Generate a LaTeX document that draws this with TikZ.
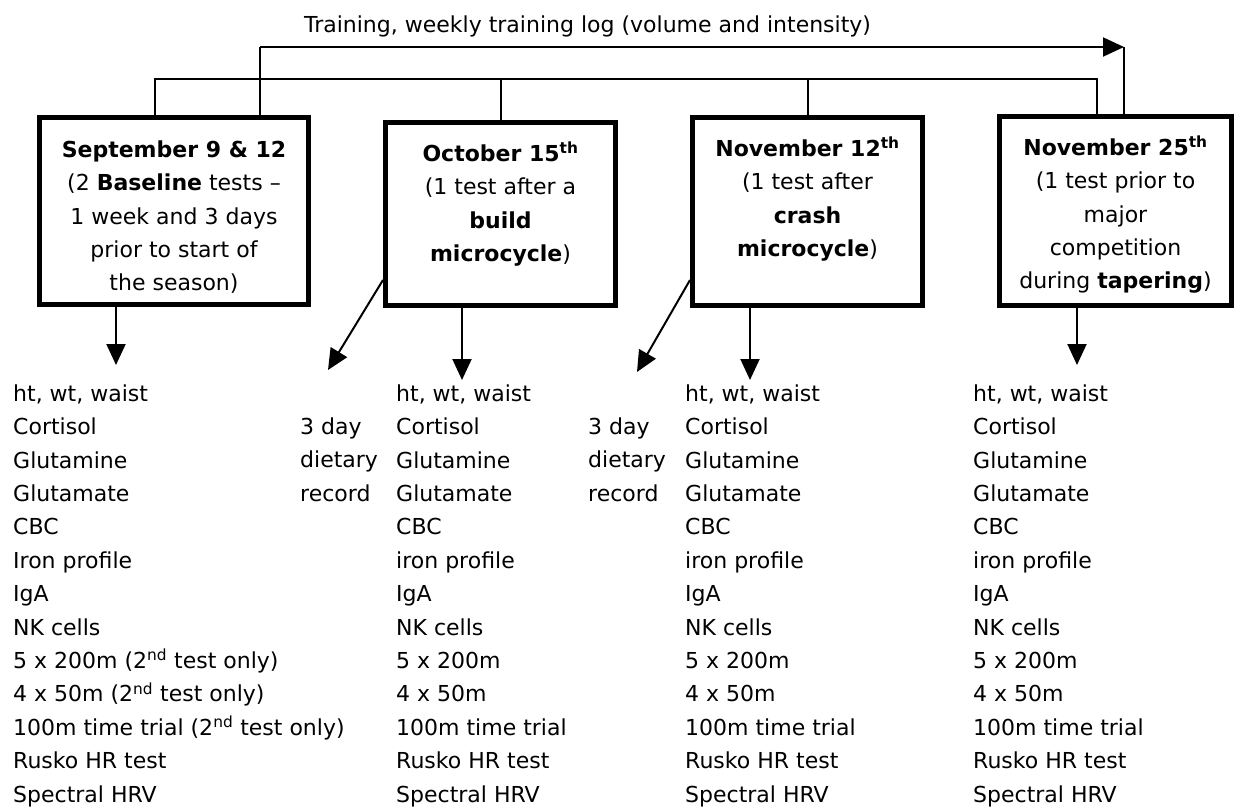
\documentclass[tikz,border=0pt]{standalone}
\usepackage{fontspec}
\setmainfont{DejaVu Sans}
\usetikzlibrary{arrows.meta}
\newcommand\myfs{\fontsize{22}{33.4}\selectfont}
\newcommand\fst{\rule{0pt}{21pt}}
\begin{document}
\begin{tikzpicture}[x=1pt,y=-1pt,
  box/.style={draw, line width=5pt, inner sep=0pt},
  boxtext/.style={font=\myfs, align=center, inner sep=0pt, anchor=north},
  lst/.style={font=\myfs, align=left, inner sep=0pt, anchor=north west},
  conn/.style={line width=2pt},
  arr/.style={conn, -{Triangle[length=21pt,width=19pt]}}]
\useasboundingbox (0,0) rectangle (1240,809);

% title
\node[font=\myfs, inner sep=0pt, anchor=base] (title) at (587.5,32) {Training, weekly training log (volume and intensity)};

% boxes
\node[box, minimum width=269pt, minimum height=187pt] (b1) at (174,211) {};
\node[box, minimum width=230pt, minimum height=183pt] (b2) at (500.5,214) {};
\node[box, minimum width=230pt, minimum height=188pt] (b3) at (807.5,211.5) {};
\node[box, minimum width=232pt, minimum height=189pt] (b4) at (1115.5,211) {};

\node[boxtext] (t1) at (174,136) {\fst\textbf{September 9 \& 12}\\(2 \textbf{Baseline} tests –\\1 week and 3 days\\prior to start of\\the season)};
\node[boxtext] (t2) at (500.5,140) {\fst\textbf{October 15\textsuperscript{th}}\\(1 test after a\\\textbf{build}\\\textbf{microcycle})};
\node[boxtext] (t3) at (807.5,135) {\fst\textbf{November 12\textsuperscript{th}}\\(1 test after\\\textbf{crash}\\\textbf{microcycle})};
\node[boxtext] (t4) at (1115.5,134) {\fst\textbf{November 25\textsuperscript{th}}\\(1 test prior to\\major\\competition\\during \textbf{tapering})};

% lists
\node[lst] (l1) at (13,380) {\fst ht, wt, waist\\Cortisol\\Glutamine\\Glutamate\\CBC\\Iron profile\\IgA\\NK cells\\5 x 200m (2\textsuperscript{nd} test only)\\4 x 50m (2\textsuperscript{nd} test only)\\100m time trial (2\textsuperscript{nd} test only)\\Rusko HR test\\Spectral HRV};
\node[lst] (d1) at (300,413.3) {\fst 3 day\\dietary\\record};
\node[lst] (l2) at (396,380) {\fst ht, wt, waist\\Cortisol\\Glutamine\\Glutamate\\CBC\\iron profile\\IgA\\NK cells\\5 x 200m\\4 x 50m\\100m time trial\\Rusko HR test\\Spectral HRV};
\node[lst] (d2) at (588,413.3) {\fst 3 day\\dietary\\record};
\node[lst] (l3) at (685,380) {\fst ht, wt, waist\\Cortisol\\Glutamine\\Glutamate\\CBC\\iron profile\\IgA\\NK cells\\5 x 200m\\4 x 50m\\100m time trial\\Rusko HR test\\Spectral HRV};
\node[lst] (l4) at (973,380) {\fst ht, wt, waist\\Cortisol\\Glutamine\\Glutamate\\CBC\\iron profile\\IgA\\NK cells\\5 x 200m\\4 x 50m\\100m time trial\\Rusko HR test\\Spectral HRV};

% connector coordinates
\coordinate (tl) at (260,47);
\coordinate (tr) at (1124,47);
\coordinate (bl) at (155,79);
\coordinate (br) at (1097,79);
\coordinate (a1) at (116,365);
\coordinate (a2) at (462,380);
\coordinate (a3) at (750,380);
\coordinate (a4) at (1077,365);
\coordinate (s2) at (383,280);
\coordinate (s3) at (689,280);
\coordinate (e2) at (328,370);
\coordinate (e3) at (637,372);

% training log arrow
\draw[conn] (b1.north -| tl) -- (tl);
\draw[arr] (tl) -- (tr);
\draw[conn] (tr) -- (b4.north -| tr);

% bracket
\draw[conn] (b1.north -| bl) -- (bl) -- (br) -- (b4.north -| br);
\draw[conn] (b2.north) -- (b2.north |- bl);
\draw[conn] (b3.north) -- (b3.north |- bl);

% down arrows
\draw[arr] (b1.south -| a1) -- (a1);
\draw[arr] (b2.south -| a2) -- (a2);
\draw[arr] (b3.south -| a3) -- (a3);
\draw[arr] (b4.south -| a4) -- (a4);

% diagonal arrows
\draw[arr] (b2.west |- s2) -- (e2);
\draw[arr] (b3.west |- s3) -- (e3);
\end{tikzpicture}
\end{document}
